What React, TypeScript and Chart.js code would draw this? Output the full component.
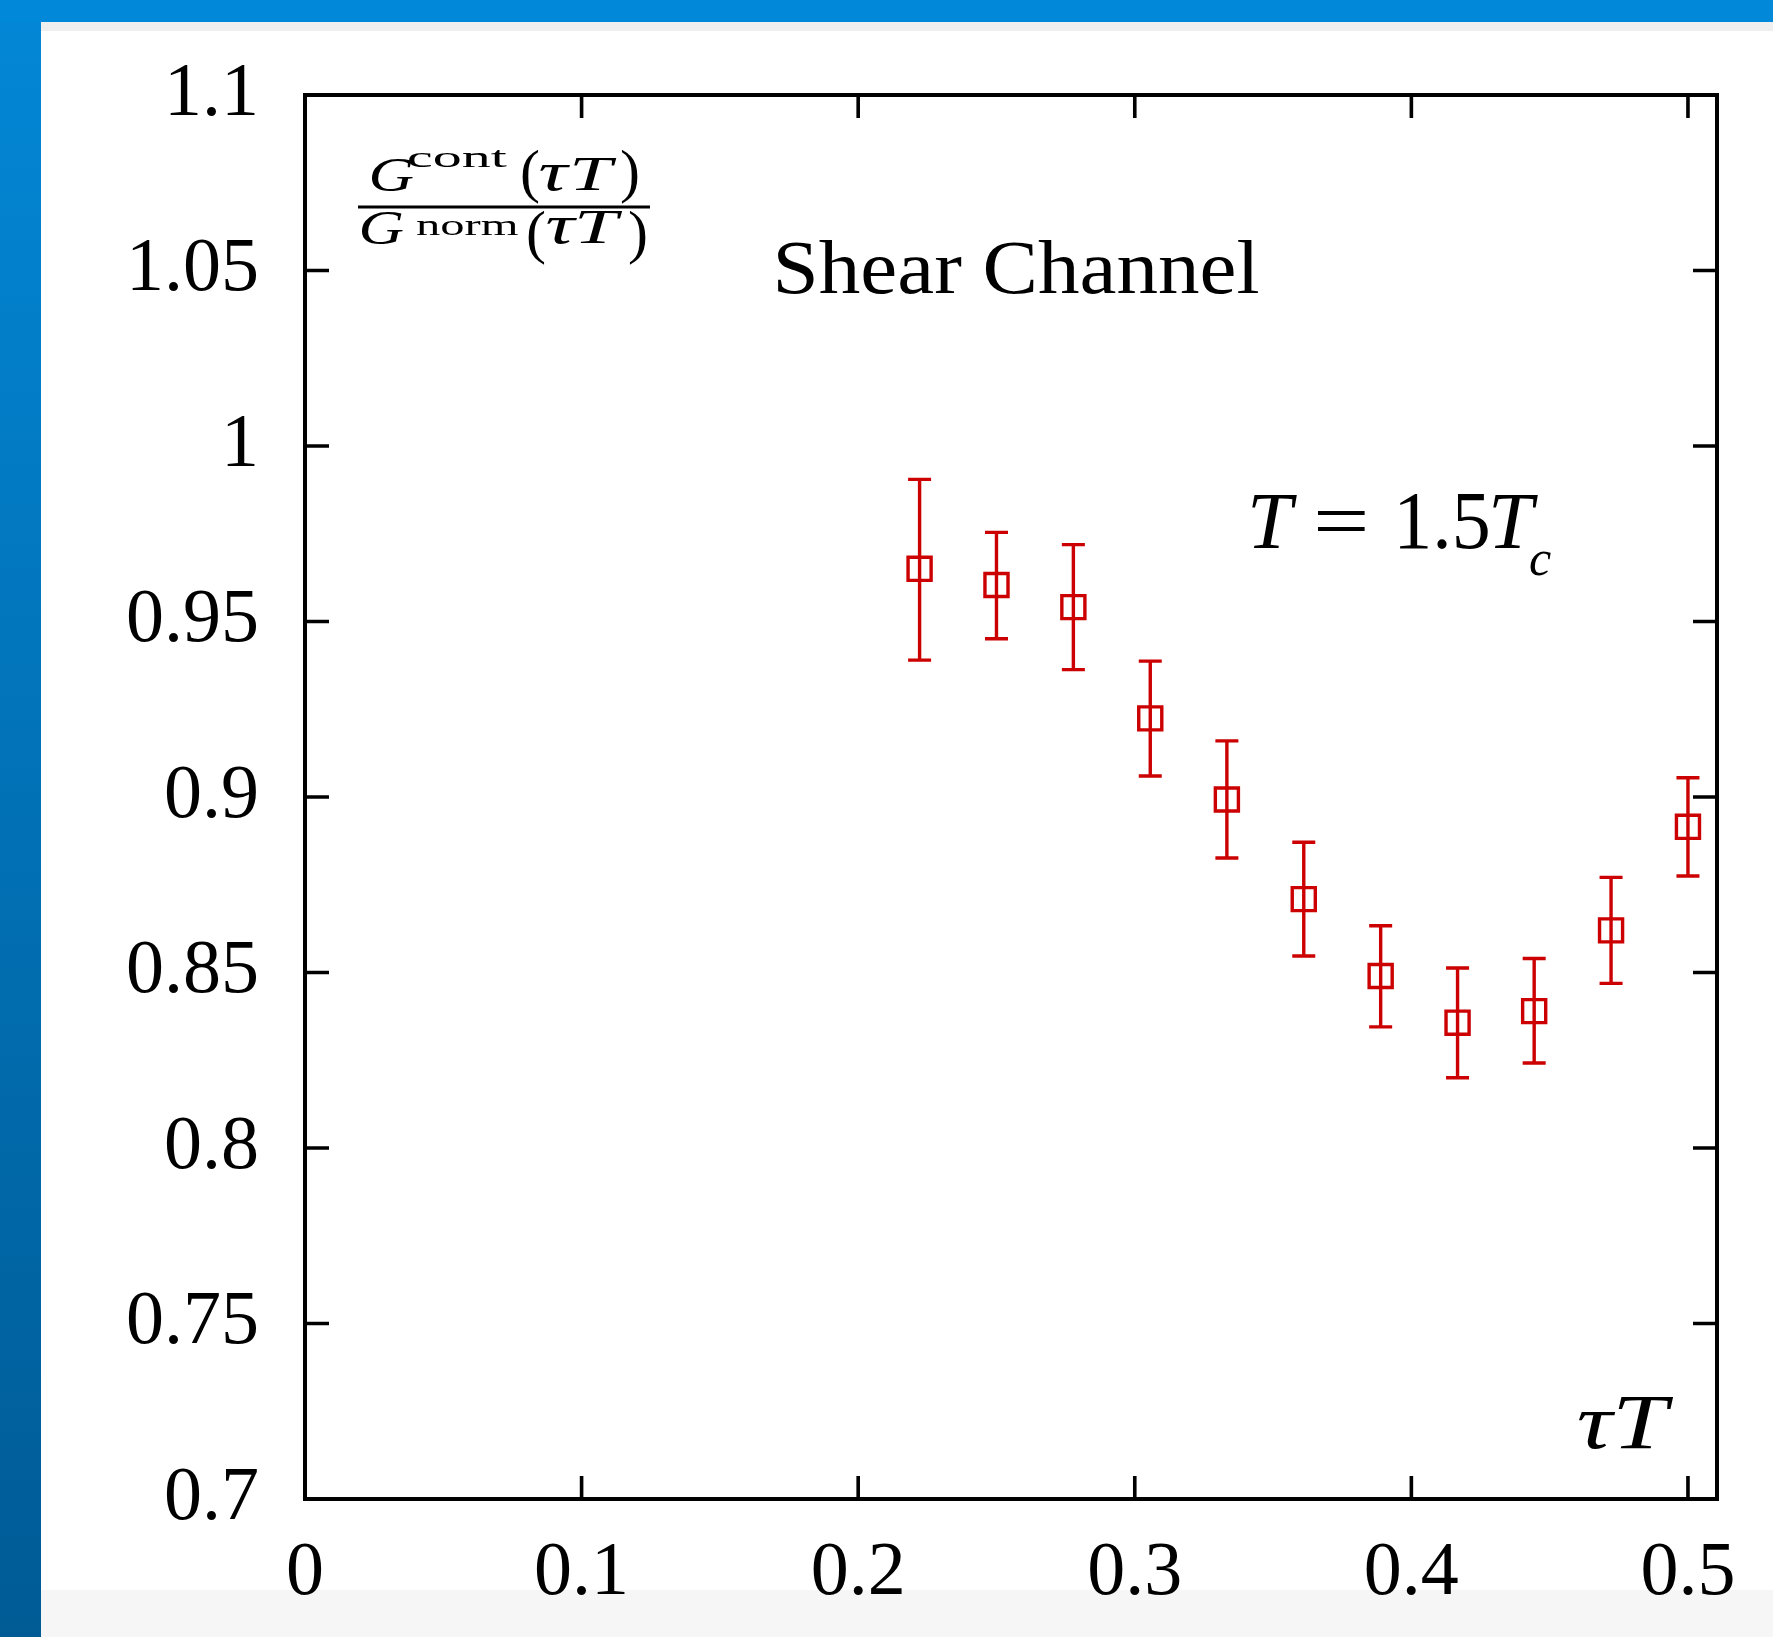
import React, { useEffect, useRef } from "react";
import { Chart, registerables } from "chart.js";

Chart.register(...registerables);

// ---- data ----
const tauT = [0.2222, 0.25, 0.2778, 0.3056, 0.3333, 0.3611, 0.3889, 0.4167, 0.4444, 0.4722, 0.5];
const ratio = [0.965, 0.9604, 0.9541, 0.9224, 0.8993, 0.8709, 0.849, 0.8357, 0.839, 0.862, 0.8915];
const ratioHigh = [0.9905, 0.9754, 0.9719, 0.9387, 0.916, 0.8871, 0.8633, 0.8513, 0.854, 0.8771, 0.9055];
const ratioLow = [0.939, 0.9451, 0.9363, 0.906, 0.8826, 0.8547, 0.8345, 0.82, 0.8242, 0.8469, 0.8775];

const xTicks = [0, 0.1, 0.2, 0.3, 0.4, 0.5];
const xTickLabels = ["0", "0.1", "0.2", "0.3", "0.4", "0.5"];
const yTicks = [0.7, 0.75, 0.8, 0.85, 0.9, 0.95, 1.0, 1.05, 1.1];
const yTickLabels = ["0.7", "0.75", "0.8", "0.85", "0.9", "0.95", "1", "1.05", "1.1"];

const RED = "#cc0000";
const SERIF = '"Liberation Serif", "DejaVu Serif", serif';

const CW = 1732;
const CH = 1606;

function drawText(
  ctx: CanvasRenderingContext2D,
  text: string,
  font: string,
  left: number,
  baseline: number,
  width?: number
) {
  ctx.save();
  ctx.font = font;
  ctx.textAlign = "left";
  ctx.textBaseline = "alphabetic";
  ctx.fillStyle = "#000";
  const m = ctx.measureText(text);
  const w = m.actualBoundingBoxLeft + m.actualBoundingBoxRight;
  const sx = width ? width / w : 1;
  ctx.translate(left, baseline);
  ctx.scale(sx, 1);
  ctx.fillText(text, m.actualBoundingBoxLeft, 0);
  ctx.restore();
}

const errorBarPlugin = {
  id: "errorBars",
  afterDatasetsDraw(chart: any) {
    const { ctx, scales } = chart;
    const xs = scales.x;
    const ys = scales.y;
    ctx.save();
    ctx.strokeStyle = RED;
    ctx.lineWidth = 3.4;
    const cap = 11.5;
    tauT.forEach((xv, i) => {
      const px = xs.getPixelForValue(xv);
      const top = ys.getPixelForValue(ratioHigh[i]);
      const bot = ys.getPixelForValue(ratioLow[i]);
      ctx.beginPath();
      ctx.moveTo(px, top);
      ctx.lineTo(px, bot);
      ctx.moveTo(px - cap, top);
      ctx.lineTo(px + cap, top);
      ctx.moveTo(px - cap, bot);
      ctx.lineTo(px + cap, bot);
      ctx.stroke();
    });
    ctx.restore();
  },
};

const framePlugin = {
  id: "frameTicks",
  afterDraw(chart: any) {
    const { ctx, chartArea, scales } = chart;
    const { left, right, top, bottom } = chartArea;
    ctx.save();
    ctx.strokeStyle = "#000";
    ctx.lineWidth = 3.6;
    ctx.beginPath();
    scales.x.ticks.forEach((t: any) => {
      const px = scales.x.getPixelForValue(t.value);
      if (px <= left + 2 || px >= right - 2) return;
      ctx.moveTo(px, bottom);
      ctx.lineTo(px, bottom - 23);
      ctx.moveTo(px, top);
      ctx.lineTo(px, top + 23);
    });
    scales.y.ticks.forEach((t: any) => {
      const py = scales.y.getPixelForValue(t.value);
      if (py <= top + 2 || py >= bottom - 2) return;
      ctx.moveTo(left, py);
      ctx.lineTo(left + 24, py);
      ctx.moveTo(right, py);
      ctx.lineTo(right - 24, py);
    });
    ctx.stroke();
    ctx.lineJoin = "miter";
    ctx.lineWidth = 4;
    ctx.strokeRect(left, top, right - left, bottom - top);
    ctx.restore();

    // annotations
    drawText(ctx, "Shear Channel", `77px ${SERIF}`, 737, 262, 480);
    drawText(ctx, "\u03C4T", `italic 78px ${SERIF}`, 1537, 1417, 95);

    // T = 1.5 T_c
    drawText(ctx, "T", `italic 81px ${SERIF}`, 1211, 517);
    drawText(ctx, "=", `81px ${SERIF}`, 1277, 517, 47);
    drawText(ctx, "1.5", `82px ${SERIF}`, 1359, 517, 88);
    drawText(ctx, "T", `italic 81px ${SERIF}`, 1452, 517);
    drawText(ctx, "c", `italic 50px ${SERIF}`, 1489, 544);

    // fraction label
    drawText(ctx, "G", `italic 48px ${SERIF}`, 330, 160, 42);
    drawText(ctx, "cont", `30px ${SERIF}`, 368, 136, 99);
    drawText(ctx, "(", `60px ${SERIF}`, 481, 160);
    drawText(ctx, "\u03C4", `italic 54px ${SERIF}`, 499, 159, 30);
    drawText(ctx, "T", `italic 48px ${SERIF}`, 533, 159, 43);
    drawText(ctx, ")", `60px ${SERIF}`, 580, 160);

    ctx.save();
    ctx.fillStyle = "#000";
    ctx.fillRect(317, 174.5, 292, 3);
    ctx.restore();

    drawText(ctx, "G", `italic 48px ${SERIF}`, 320, 213, 42);
    drawText(ctx, "norm", `30px ${SERIF}`, 375, 204, 102);
    drawText(ctx, "(", `60px ${SERIF}`, 487, 221);
    drawText(ctx, "\u03C4", `italic 54px ${SERIF}`, 506, 212, 30);
    drawText(ctx, "T", `italic 48px ${SERIF}`, 538, 212, 44);
    drawText(ctx, ")", `60px ${SERIF}`, 588, 221);
  },
};

export default function App() {
  const ref = useRef<HTMLCanvasElement | null>(null);

  useEffect(() => {
    if (!ref.current) return;
    const chart = new Chart(ref.current, {
      type: "scatter",
      data: {
        datasets: [
          {
            data: tauT.map((x, i) => ({ x, y: ratio[i] })),
            pointStyle: "rect",
            pointRadius: 16.3,
            pointHoverRadius: 16.3,
            borderColor: RED,
            backgroundColor: "rgba(0,0,0,0)",
            borderWidth: 3.4,
            showLine: false,
          },
        ],
      },
      options: {
        animation: false,
        responsive: false,
        devicePixelRatio: 1,
        layout: { padding: { left: 0, right: 56, top: 64, bottom: 0 } },
        plugins: {
          legend: { display: false },
          tooltip: { enabled: false },
        },
        scales: {
          x: {
            type: "linear",
            min: 0,
            max: 0.5105,
            afterBuildTicks: (scale: any) => {
              scale.ticks = xTicks.map((v) => ({ value: v }));
            },
            afterFit: (scale: any) => {
              scale.height = 138;
              scale.paddingLeft = 0;
              scale.paddingRight = 0;
            },
            grid: { display: false, drawTicks: false },
            border: { display: false },
            ticks: {
              autoSkip: false,
              maxRotation: 0,
              padding: 29,
              color: "#000",
              font: { family: SERIF, size: 76 },
              callback: (_v: any, i: number) => xTickLabels[i],
            },
          },
          y: {
            type: "linear",
            min: 0.7,
            max: 1.1,
            afterBuildTicks: (scale: any) => {
              scale.ticks = yTicks.map((v) => ({ value: v }));
            },
            afterFit: (scale: any) => {
              scale.width = 264;
              scale.paddingTop = 0;
              scale.paddingBottom = 0;
            },
            grid: { display: false, drawTicks: false },
            border: { display: false },
            ticks: {
              autoSkip: false,
              padding: 46,
              color: "#000",
              font: { family: SERIF, size: 76 },
              callback: (_v: any, i: number) => yTickLabels[i],
            },
          },
        },
      },
      plugins: [errorBarPlugin, framePlugin],
    } as any);
    return () => chart.destroy();
  }, []);

  return (
    <div
      style={{
        position: "absolute",
        left: 0,
        top: 0,
        width: 1773,
        height: 1637,
        background: "#fff",
        overflow: "hidden",
      }}
    >
      <div
        style={{
          position: "absolute",
          left: 0,
          top: 0,
          width: 41,
          height: 1637,
          background: "linear-gradient(to bottom, #0387d6, #005b95)",
        }}
      />
      <div style={{ position: "absolute", left: 0, top: 0, width: 1773, height: 22, background: "#0288d8" }} />
      <div style={{ position: "absolute", left: 41, top: 22, width: 1732, height: 9, background: "#efefef" }} />
      <div style={{ position: "absolute", left: 41, top: 1590, width: 1732, height: 47, background: "#f6f6f6" }} />
      <div style={{ position: "absolute", left: 41, top: 31, width: CW, height: CH }}>
        <canvas ref={ref} width={CW} height={CH} style={{ width: CW, height: CH, display: "block" }} />
      </div>
    </div>
  );
}
